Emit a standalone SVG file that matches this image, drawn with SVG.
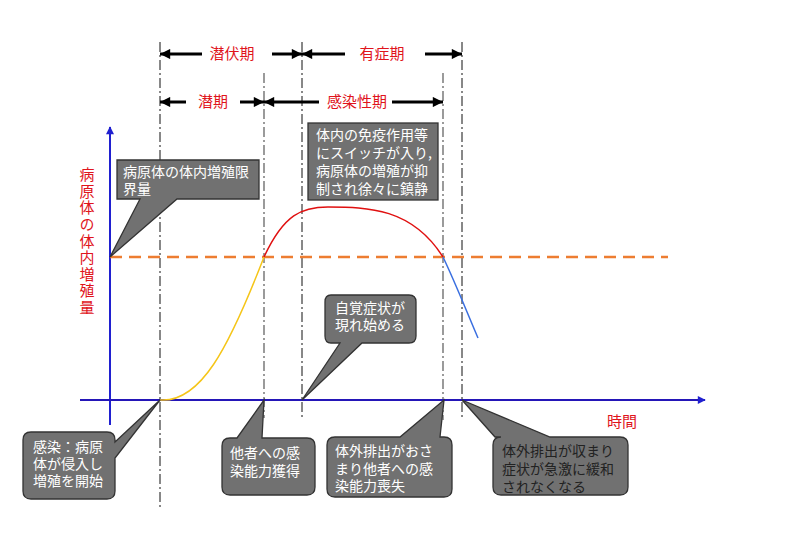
<svg xmlns="http://www.w3.org/2000/svg" width="801" height="553" viewBox="0 0 801 553">
<style>
.lbl{font-family:"Noto Sans CJK JP","Noto Sans",sans-serif;font-size:15px;fill:#e0141c}
.ct{font-family:"Noto Sans CJK JP","Noto Sans",sans-serif;font-size:14px;fill:#ffffff}
.ctd{font-family:"Noto Sans CJK JP","Noto Sans",sans-serif;font-size:14px;fill:#222222}
.box{fill:#717171;stroke:#333333;stroke-width:1.3}
.vd{stroke:#111;stroke-width:1;stroke-dasharray:10,3,2,3;fill:none}
.vg{stroke:#666;stroke-width:1.3;stroke-dasharray:10,3,2,3;fill:none}
.arr{stroke:#000;stroke-width:3;fill:none}
</style>
<defs>
<marker id="ah" viewBox="0 0 10 10" refX="10" refY="5" markerWidth="4" markerHeight="3.4" orient="auto-start-reverse" markerUnits="strokeWidth"><path d="M0,0 L10,5 L0,10 z" fill="#000"/></marker>
<marker id="bh" viewBox="0 0 10 10" refX="9" refY="5" markerWidth="5" markerHeight="4" orient="auto" markerUnits="strokeWidth"><path d="M0,0 L10,5 L0,10 z" fill="#2020d0"/></marker>
</defs>
<rect width="801" height="553" fill="#fff"/>

<g id="guides">
<line class="vd" x1="160" y1="42" x2="160" y2="510"/>
<line class="vg" x1="264" y1="73" x2="264" y2="418"/>
<line class="vd" x1="302" y1="42" x2="302" y2="420"/>
<line class="vg" x1="443" y1="73" x2="443" y2="420"/>
<line class="vd" x1="462" y1="42" x2="462" y2="420"/>
</g>

<g id="connectors">
<line class="arr" x1="202" y1="54" x2="160" y2="54" marker-end="url(#ah)"/>
<line class="arr" x1="272" y1="54" x2="302" y2="54" marker-end="url(#ah)"/>
<line class="arr" x1="345" y1="54" x2="302" y2="54" marker-end="url(#ah)"/>
<line class="arr" x1="425" y1="54" x2="462" y2="54" marker-end="url(#ah)"/>
<line class="arr" x1="186" y1="102" x2="160" y2="102" marker-end="url(#ah)"/>
<line class="arr" x1="240" y1="102" x2="264" y2="102" marker-end="url(#ah)"/>
<line class="arr" x1="319" y1="102" x2="264" y2="102" marker-end="url(#ah)"/>
<line class="arr" x1="392" y1="102" x2="443" y2="102" marker-end="url(#ah)"/>
<line x1="110" y1="425" x2="110" y2="127" stroke="#2020d0" stroke-width="2" marker-end="url(#bh)"/>
<line x1="80" y1="400" x2="705" y2="400" stroke="#2416b8" stroke-width="2" marker-end="url(#bh)"/>
<line x1="110" y1="257" x2="668" y2="257" stroke="#ed7d31" stroke-width="2.5" stroke-dasharray="12,7"/>
<path d="M160,400 C200,403 228,350 264,257" fill="none" stroke="#f5c518" stroke-width="1.5"/>
<path d="M264,257 C284,214 302,207 328,207 C368,207 412,208 443,257" fill="none" stroke="#e01010" stroke-width="1.5"/>
<path d="M443,257 C455,282 466,310 478,338" fill="none" stroke="#3a6fe0" stroke-width="1.5"/>
</g>

<g id="period-labels">
<text class="lbl" x="232" y="59" text-anchor="middle" font-size="16">潜伏期</text>
<text class="lbl" x="382" y="59" text-anchor="middle" font-size="16">有症期</text>
<text class="lbl" x="213" y="107" text-anchor="middle" font-size="16">潜期</text>
<text class="lbl" x="357" y="107" text-anchor="middle" font-size="16">感染性期</text>
</g>

<g id="y-label">
<text class="lbl" x="87" y="167" writing-mode="vertical-rl" letter-spacing="1.6">病原体の体内増殖量</text>
</g>

<g id="x-label">
<text class="lbl" x="622" y="427" text-anchor="middle">時間</text>
</g>

<g id="callout-limit">
<path class="box" d="M117,160 H259 V199 H177 L110,257 L140,199 H117 Z"/>
<text class="ct"><tspan x="123" y="177">病原体の体内増殖限</tspan><tspan x="123" y="194">界量</tspan></text>
</g>

<g id="callout-immune">
<rect class="box" x="308" y="123" width="130" height="77"/>
<text class="ct"><tspan x="316" y="140">体内の免疫作用等</tspan><tspan x="316" y="158">にスイッチが入り,</tspan><tspan x="316" y="176">病原体の増殖が抑</tspan><tspan x="316" y="194">制され徐々に鎮静</tspan></text>
</g>

<g id="callout-symptom">
<path class="box" d="M331,295 H409 Q416,295 416,302 V336 Q416,343 409,343 H362 L302,400 L340,343 H331 Q325,343 325,336 V302 Q325,295 331,295 Z"/>
<text class="ct" text-anchor="middle"><tspan x="370" y="313">自覚症状が</tspan><tspan x="370" y="330">現れ始める</tspan></text>
</g>

<g id="callout-infection">
<path class="box" d="M31,432 H107 Q115,432 115,440 V442 L160,400 L115,458 V491 Q115,499 107,499 H31 Q23,499 23,491 V440 Q23,432 31,432 Z"/>
<text class="ct"><tspan x="33" y="452">感染：病原</tspan><tspan x="33" y="469">体が侵入し</tspan><tspan x="33" y="486">増殖を開始</tspan></text>
</g>

<g id="callout-contagious">
<path class="box" d="M230,438 H237 L264,400 L262,438 H307 Q315,438 315,446 V487 Q315,495 307,495 H230 Q222,495 222,487 V446 Q222,438 230,438 Z"/>
<text class="ct"><tspan x="230" y="458">他者への感</tspan><tspan x="230" y="476">染能力獲得</tspan></text>
</g>

<g id="callout-loss">
<path class="box" d="M335,437 H400 L444,400 L440,437 H444 Q452,437 452,445 V489 Q452,497 444,497 H335 Q327,497 327,489 V445 Q327,437 335,437 Z"/>
<text class="ct"><tspan x="335" y="456">体外排出がおさ</tspan><tspan x="335" y="474">まり他者への感</tspan><tspan x="335" y="491">染能力喪失</tspan></text>
</g>

<g id="callout-recovery">
<path class="box" d="M501,437 H495 L462,400 L550,437 H620 Q628,437 628,445 V487 Q628,495 620,495 H501 Q493,495 493,487 V445 Q493,437 501,437 Z"/>
<text class="ctd"><tspan x="502" y="456">体外排出が収まり</tspan><tspan x="502" y="474">症状が急激に緩和</tspan><tspan x="502" y="492">されなくなる</tspan></text>
</g>
</svg>
